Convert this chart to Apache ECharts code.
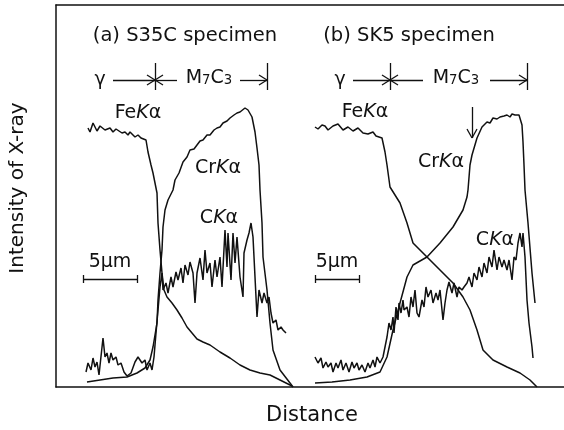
<!DOCTYPE html>
<html>
<head>
<meta charset="utf-8">
<script src="https://cdn.jsdelivr.net/npm/echarts@6/dist/echarts.min.js"></script>
<style>
  html, body {margin: 0; padding: 0; background: #fff}
  #main {width: 564px; height: 430px}
</style>
</head>
<body>
<div id="main"></div>
<script>
// x: distance, y: X-ray intensity (arbitrary units)

// (a) S35C specimen
const feA = [[32,259],[34,255],[36,257],[37,264],[39,262],[41,256],[42,257],[44,261],[46,260],[49,257],[51,259],[54,259],[57,255],[60,258],[62,256],[66,254],[69,255],[72,252],[74,255],[76,254],[79,250],[82,252],[85,249],[87,250],[90,247],[92,235],[95,222],[97,214],[101,194],[102,164],[104,137],[106,114],[108,97],[111,90],[116,84],[121,77],[126,69],[131,60],[136,54],[141,48],[147,45],[154,42],[164,35],[174,29],[184,22],[194,17],[204,14],[214,12],[224,7],[234,2],[237,0]]
const crA = [[31,5],[44,7],[57,9],[71,10],[81,14],[89,19],[94,27],[97,40],[101,64],[102,87],[104,114],[106,137],[107,160],[109,177],[112,187],[117,197],[119,207],[123,214],[127,225],[131,230],[134,237],[138,238],[141,242],[144,246],[147,247],[151,252],[154,252],[158,257],[161,259],[164,260],[167,264],[171,266],[174,269],[178,272],[181,274],[184,275],[186,277],[189,279],[192,277],[196,270],[199,255],[201,239],[203,222],[204,197],[206,164],[207,130],[211,97],[214,64],[217,37],[224,17],[234,4],[237,0]]
const cA = [[30,15],[32,24],[35,17],[37,29],[39,20],[41,25],[43,12],[47,49],[49,30],[51,34],[53,24],[55,34],[57,27],[60,30],[62,22],[65,24],[68,15],[71,11],[75,14],[79,25],[82,30],[86,24],[89,27],[91,17],[94,24],[96,17],[98,30],[100,54],[102,77],[104,100],[106,114],[107,97],[110,104],[112,94],[115,110],[117,100],[120,115],[122,107],[125,119],[127,104],[129,122],[132,112],[134,125],[137,114],[139,84],[141,114],[144,129],[147,107],[149,137],[151,114],[154,124],[156,100],[159,127],[161,110],[164,130],[166,100],[169,157],[171,120],[172,154],[175,107],[177,154],[179,124],[181,150],[184,110],[187,90],[188,134],[191,147],[193,154],[195,164],[197,150],[199,110],[201,70],[203,97],[206,84],[208,94],[211,84],[213,90],[215,74],[217,64],[220,67],[222,57],[225,60],[227,57],[230,54]]

// (b) SK5 specimen
const feB = [[259,260],[262,258],[264,259],[266,262],[269,261],[272,257],[274,258],[277,261],[279,260],[282,263],[284,262],[287,257],[289,258],[292,260],[294,259],[297,256],[299,257],[302,259],[304,258],[307,254],[309,255],[312,253],[314,254],[317,255],[320,251],[322,250],[326,249],[329,235],[331,222],[334,200],[339,192],[344,184],[351,164],[357,144],[371,130],[384,117],[397,104],[407,90],[414,77],[421,57],[427,37],[437,27],[451,20],[464,14],[474,7],[481,0]]
const crB = [[259,4],[276,5],[294,7],[311,10],[324,15],[331,30],[337,57],[344,84],[351,110],[357,122],[371,130],[384,144],[397,160],[407,177],[411,190],[412,197],[414,222],[416,232],[421,249],[426,260],[431,265],[434,264],[437,269],[441,268],[444,270],[448,271],[451,272],[454,270],[456,273],[459,272],[461,274],[463,272],[466,262],[467,245],[468,222],[469,197],[472,164],[476,114],[479,84]]
const cB = [[259,30],[262,24],[265,29],[267,19],[270,25],[272,20],[275,24],[277,15],[280,24],[282,19],[285,27],[287,17],[290,24],[293,15],[296,25],[298,19],[301,24],[303,17],[306,22],[309,15],[312,24],[314,19],[317,27],[319,20],[321,30],[324,24],[327,30],[329,40],[331,50],[333,64],[335,57],[337,70],[338,54],[340,80],[342,67],[343,84],[345,74],[347,87],[348,77],[351,80],[353,70],[355,90],[357,80],[359,97],[361,74],[363,70],[366,87],[368,80],[370,100],[372,90],[375,97],[377,84],[380,94],[382,87],[384,97],[387,67],[389,84],[391,97],[393,105],[396,94],[398,104],[401,90],[403,100],[406,97],[408,100],[411,104],[413,110],[416,100],[418,114],[421,107],[423,120],[426,110],[428,124],[431,114],[433,130],[436,120],[438,137],[441,117],[443,130],[446,120],[448,127],[451,117],[453,127],[456,107],[458,130],[460,127],[462,144],[464,154],[466,140],[467,154],[469,130],[471,87],[473,64],[476,40],[477,29]]

// phase arrows: [from x, to x, y], boundary bars: [x, y0, y1]
const arrowsRight = [[57,99,307],[184,211,307],[297,334,307],[434,471,307]]
const arrowsLeft = [[121,99,307],[367,334,307]]
const bars = [[99,297,324],[211,297,324],[334,297,324],[471,297,324]]
const arrowDown = [[416,280,249]]
// 5 µm scale bars: [x0, x1, y]
const scaleBars = [[27,81,108],[259,303,108]]

const segs = []
arrowsRight.forEach(([a, b, y]) => {
  segs.push([a, y, b, y], [b - 8, y + 5, b, y], [b - 8, y - 5, b, y])
})
arrowsLeft.forEach(([a, b, y]) => {
  segs.push([a, y, b, y], [b + 8, y + 5, b, y], [b + 8, y - 5, b, y])
})
bars.forEach(([x, y0, y1]) => segs.push([x, y0, x, y1]))
arrowDown.forEach(([x, a, b]) => {
  segs.push([x, a, x, b], [x - 5, b + 9, x, b], [x + 5, b + 9, x, b])
})
scaleBars.forEach(([a, b, y]) => {
  segs.push([a, y, b, y], [a, y - 4, a, y + 4], [b, y - 4, b, y + 4])
})

const font = '"DejaVu Sans", sans-serif'
const ink = '#111'

function txt(text, x, y, size, extra) {
  return {
    type: 'text',
    x, y,
    style: Object.assign({
      text,
      fill: ink,
      font: `${size}px ${font}`,
      align: 'center',
      verticalAlign: 'middle',
      rich: {
        k: {fontStyle: 'italic', fontSize: size, fontFamily: font, fill: ink},
        s: {fontSize: size * 0.7, fontFamily: font, fill: ink, padding: [6, 0, 0, 0]},
      },
    }, extra || {}),
  }
}

const line = (data) => ({
  type: 'line',
  data,
  symbol: 'none',
  smooth: false,
  lineStyle: {color: ink, width: 1.5},
  silent: true,
})

const chart = echarts.init(document.getElementById('main'))
chart.setOption({
  animation: false,
  backgroundColor: '#fff',
  grid: {left: 56, right: 0, top: 5, bottom: 43},
  xAxis: [
    {type: 'value', min: 0, max: 508, axisLine: {show: true, lineStyle: {color: ink, width: 1.5}},
      axisTick: {show: false}, axisLabel: {show: false}, splitLine: {show: false}},
    {type: 'value', position: 'top', min: 0, max: 508, axisLine: {show: true, lineStyle: {color: ink, width: 1.5}},
      axisTick: {show: false}, axisLabel: {show: false}, splitLine: {show: false}},
  ],
  yAxis: {type: 'value', min: 0, max: 382, axisLine: {show: true, lineStyle: {color: ink, width: 1.5}},
    axisTick: {show: false}, axisLabel: {show: false}, splitLine: {show: false}},
  series: [
    line(feA), line(crA), line(cA),
    line(feB), line(crB), line(cB),
    {
      type: 'line',
      data: [],
      silent: true,
      markLine: {
        silent: true,
        symbol: 'none',
        animation: false,
        label: {show: false},
        lineStyle: {color: ink, width: 1.3, type: 'solid'},
        data: segs.map(s => [{coord: [s[0], s[1]]}, {coord: [s[2], s[3]]}]),
      },
    },
  ],
  graphic: [
    txt('(a) S35C specimen', 185, 36, 19.5),
    txt('(b) SK5 specimen', 409, 36, 19.5),
    txt('γ', 100, 80, 19),
    txt('γ', 340, 80, 19),
    txt('M{s|7}C{s|3}', 209, 78, 19),
    txt('M{s|7}C{s|3}', 456, 78, 19),
    txt('Fe{k|K}α', 138, 113, 19),
    txt('Fe{k|K}α', 365, 112, 19),
    txt('Cr{k|K}α', 218, 168, 19),
    txt('Cr{k|K}α', 441, 162, 19),
    txt('C{k|K}α', 219, 218, 19),
    txt('C{k|K}α', 495, 240, 19),
    txt('5μm', 110, 262, 19),
    txt('5μm', 337, 262, 19),
    txt('Distance', 312, 416, 21),
    Object.assign(txt('Intensity of X-ray', 18, 188, 20), {rotation: Math.PI / 2}),
  ],
})
</script>
</body>
</html>
